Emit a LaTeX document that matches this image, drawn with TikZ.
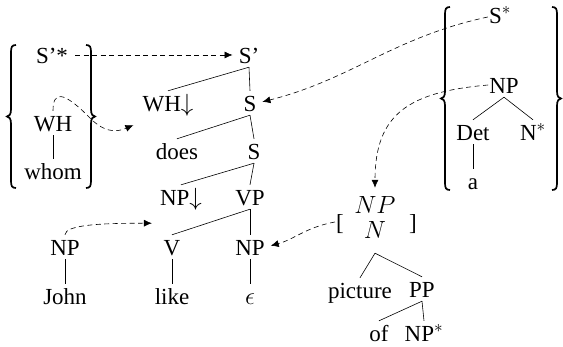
\documentclass[tikz,border=0pt]{standalone}
\usepackage{fontspec}
\setmainfont{Liberation Serif}
\usetikzlibrary{arrows.meta,calc}
\tikzset{
  tn/.style={font=\fontsize{23}{27}\selectfont, inner sep=1pt, text height=20pt, text depth=2pt, anchor=base},
  tl/.style={line width=0.6pt},
  da/.style={line width=0.6pt, dash pattern=on 5pt off 3.5pt, -{Latex[length=8pt,width=7pt]}},
  brc/.style={line width=1.7pt},
  pics/lbr/.style={code={\draw[brc] (5,0) .. controls (1,0) and (0,-2) .. (0,-7) -- (0,{-#1/2+7}) .. controls (0,{-#1/2+2}) and (-2,{-#1/2}) .. (-4,{-#1/2}) .. controls (-2,{-#1/2}) and (0,{-#1/2-2}) .. (0,{-#1/2-7}) -- (0,{-#1+7}) .. controls (0,{-#1+2}) and (1,-#1) .. (5,-#1);}}
}
\begin{document}
\begin{tikzpicture}[x=1pt,y=1pt]
\useasboundingbox (0,0) rectangle (563,-347);
% braces
\pic at (11,-45) {lbr=143};
\pic[xscale=-1] at (91,-45) {lbr=143};
\pic at (445,-7) {lbr=183};
\pic[xscale=-1] at (557,-7) {lbr=183};
% left auxiliary tree
\node[tn] (Sps) at (52,-64) {S’*};
\node[tn] (WHl) at (53,-132) {WH};
\node[tn] (whom) at (53,-180) {whom};
% main tree
\node[tn] (Sp) at (249,-64) {S’};
\node[tn] (WHd) at (168,-112) {WH$\downarrow$};
\node[tn] (S1) at (250,-112) {S};
\node[tn] (does) at (177,-160) {does};
\node[tn] (S2) at (254,-160) {S};
\node[tn] (NPd) at (181,-206) {NP$\downarrow$};
\node[tn] (VP) at (250,-206) {VP};
\node[tn] (NPj) at (65,-256) {NP};
\node[tn] (V) at (172,-256) {V};
\node[tn] (NPe) at (250,-256) {NP};
\node[tn] (John) at (65,-305) {John};
\node[tn] (like) at (172,-305) {like};
\node[tn] (eps) at (250,-305) {$\epsilon$};
% right auxiliary trees
\node[tn, text height=16pt] (Sst) at (500,-24) {S$^*$};
\node[tn] (NPr) at (504,-94) {NP};
\node[tn] (Det) at (473,-141) {Det};
\node[tn] (Nst) at (533,-141) {N$^*$};
\node[tn] (a) at (473,-190) {a};
% picture tree
\node[tn] (lb) at (340,-231) {[};
\node[tn] (rb) at (413,-231) {]};
\node[tn] (NPit) at (375,-214) {$NP$};
\node[tn,text depth=13pt] (Nit) at (375,-239) {$N$};
\node[tn] (pic) at (360,-299) {picture};
\node[tn] (PP) at (422,-298) {PP};
\node[tn] (of) at (379,-342) {of};
\node[tn] (NPs) at (424,-342) {NP$^*$};
% tree edges
\draw[tl] (WHl.south) -- (whom.north);
\draw[tl] (Sp.south) -- (WHd.north);
\draw[tl] (Sp.south) -- (S1.north);
\draw[tl] (S1.south) -- (does.north);
\draw[tl] (S1.south) -- (S2.north);
\draw[tl] (S2.south) -- (NPd.north);
\draw[tl] (S2.south) -- (VP.north);
\draw[tl] (VP.south) -- (V.north);
\draw[tl] (VP.south) -- (NPe.north);
\draw[tl] (NPj.south) -- (John.north);
\draw[tl] (V.south) -- (like.north);
\draw[tl] (NPe.south) -- (eps.north);
\draw[tl] (NPr.south) -- (Det.north);
\draw[tl] (NPr.south) -- (Nst.north);
\draw[tl] (Det.south) -- (a.north);
\draw[tl] (Nit.south) -- (pic.north);
\draw[tl] (Nit.south) -- (PP.north);
\draw[tl] (PP.south) -- (of.north);
\draw[tl] (PP.south) -- (NPs.north);
% dashed links
\draw[da, shorten <=6pt, shorten >=5pt] (Sps.east) -- (Sp.west);
\draw[da] (WHl.north) .. controls (53,-92) and (62,-90) .. (88,-116) .. controls (103,-132) and (115,-133) .. ($(WHd.south west)+(-8,-10)$);
\draw[da, shorten >=5pt] (Sst.west) to[out=192,in=14] (S1.east);
\draw[da, shorten >=5pt] (NPr.west) to[out=185,in=90,looseness=1.3] (NPit.north);
\draw[da, shorten >=5pt] (lb.west) to[out=190,in=15] (NPe.east);
\draw[da] (NPj.north) to[out=90,in=180,out looseness=0.3,in looseness=1.4] ($(NPd.south west)+(-7,-14)$);
\end{tikzpicture}
\end{document}
